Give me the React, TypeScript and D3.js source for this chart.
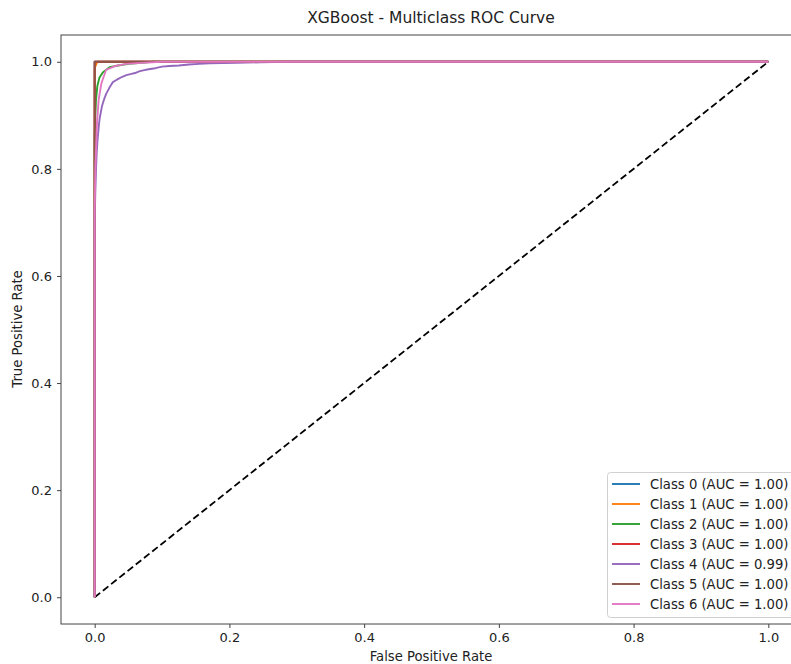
import React, { useEffect, useRef } from 'react';
import * as d3 from 'd3';

// ROC points (fpr, tpr)
const class0: [number, number][] = [[0, 0], [0, 1], [1, 1]];
const class1: [number, number][] = [[0, 0], [0, 0.988], [0.002, 0.994], [0.004, 1], [1, 1]];
const class2: [number, number][] = [
    [0, 0], [0, 0.86], [0.001, 0.9], [0.002, 0.93], [0.004, 0.955], [0.007, 0.97], [0.012, 0.98],
    [0.022, 0.99], [0.035, 0.993], [0.05, 0.996], [0.07, 0.998], [0.086, 1], [1, 1],
];
const class3: [number, number][] = [[0, 0], [0, 1], [1, 1]];
const class4: [number, number][] = [
    [0, 0], [0, 0.7], [0.001, 0.76], [0.002, 0.8], [0.003, 0.83], [0.004, 0.85], [0.005, 0.865],
    [0.0065, 0.885], [0.0075, 0.895], [0.009, 0.905], [0.011, 0.918], [0.014, 0.93], [0.017, 0.94],
    [0.02, 0.947], [0.022, 0.952], [0.025, 0.958], [0.027, 0.962], [0.031, 0.965], [0.035, 0.968],
    [0.041, 0.972], [0.047, 0.975], [0.053, 0.977], [0.06, 0.979], [0.066, 0.982], [0.072, 0.984],
    [0.08, 0.986], [0.09, 0.988], [0.1, 0.991], [0.111, 0.992], [0.125, 0.993], [0.14, 0.995],
    [0.155, 0.996], [0.171, 0.997], [0.19, 0.9975], [0.21, 0.998], [0.245, 0.999], [0.29, 1], [1, 1],
];
const class5: [number, number][] = [[0, 0], [0, 1], [1, 1]];
const class6: [number, number][] = [
    [0, 0], [0, 0.72], [0.001, 0.8], [0.0035, 0.888], [0.006, 0.93], [0.01, 0.96], [0.017, 0.985],
    [0.03, 0.992], [0.047, 0.996], [0.07, 0.998], [0.1, 1], [1, 1],
];

const seriesNames = ['Class 0', 'Class 1', 'Class 2', 'Class 3', 'Class 4', 'Class 5', 'Class 6'];
const seriesData = [class0, class1, class2, class3, class4, class5, class6];
const aucValues = [1.0, 1.0, 1.0, 1.0, 0.99, 1.0, 1.0];
const xTicks = [0, 0.2, 0.4, 0.6, 0.8, 1.0];
const yTicks = [0, 0.2, 0.4, 0.6, 0.8, 1.0];

const App = () => {
    const ref = useRef<SVGSVGElement>(null);

    useEffect(() => {
        document.body.style.margin = '0';
        const svg = d3.select(ref.current);
        svg.selectAll('*').remove();

        const font = 'DejaVu Sans, sans-serif';
        const left = 61, right = 802, top = 35, bottom = 624;

        const x = d3.scaleLinear().domain([-0.05, 1.05]).range([left, right]);
        const y = d3.scaleLinear().domain([-0.05, 1.05]).range([bottom, top]);
        const colors = d3.schemeCategory10;

        svg.append('rect').attr('width', 791).attr('height', 664).attr('fill', 'white');

        // diagonal
        svg.append('path')
            .datum([[0, 0], [1, 1]] as [number, number][])
            .attr('fill', 'none')
            .attr('stroke', 'black')
            .attr('stroke-width', 1.8)
            .attr('stroke-dasharray', '7,3.5')
            .attr('d', d3.line().x(d => x(d[0])).y(d => y(d[1])));

        seriesData.forEach((data, i) => {
            svg.append('path')
                .datum(data)
                .attr('fill', 'none')
                .attr('stroke', colors[i])
                .attr('stroke-width', 1.9)
                .attr('stroke-linejoin', 'round')
                .attr('d', d3.line().x(d => x(d[0])).y(d => y(d[1])));
        });

        // axes
        const gx = svg.append('g').attr('transform', `translate(0,${bottom})`)
            .call(d3.axisBottom(x).tickValues(xTicks).tickFormat(d3.format('.1f')).tickSize(4).tickPadding(5));
        const gy = svg.append('g').attr('transform', `translate(${left},0)`)
            .call(d3.axisLeft(y).tickValues(yTicks).tickFormat(d3.format('.1f')).tickSize(4).tickPadding(5));
        [gx, gy].forEach(g => {
            g.select('.domain').remove();
            g.selectAll('line').attr('stroke', '#444');
            g.selectAll('text').attr('font-family', font).attr('font-size', 13).attr('fill', '#222');
        });

        // frame
        svg.append('rect')
            .attr('x', left).attr('y', top)
            .attr('width', right - left).attr('height', bottom - top)
            .attr('fill', 'none').attr('stroke', '#444').attr('stroke-width', 1);

        // legend
        const lg = svg.append('g');
        lg.append('rect')
            .attr('x', 607.5).attr('y', 472.5).attr('width', 190).attr('height', 145).attr('rx', 3)
            .attr('fill', 'white').attr('fill-opacity', 0.8).attr('stroke', '#d0d0d0');
        seriesNames.forEach((name, i) => {
            const ly = 484 + i * 20;
            lg.append('line').attr('x1', 612).attr('x2', 640).attr('y1', ly).attr('y2', ly)
                .attr('stroke', colors[i]).attr('stroke-width', 1.9);
            lg.append('text').attr('x', 650).attr('y', ly).attr('dy', '0.35em')
                .attr('font-family', font).attr('font-size', 13.2).attr('fill', '#222')
                .text(`${name} (AUC = ${aucValues[i].toFixed(2)})`);
        });

        // labels
        svg.append('text').attr('x', 431).attr('y', 23).attr('text-anchor', 'middle')
            .attr('font-family', font).attr('font-size', 15.5).attr('fill', '#222')
            .text('XGBoost - Multiclass ROC Curve');
        svg.append('text').attr('x', 431).attr('y', 661).attr('text-anchor', 'middle')
            .attr('font-family', font).attr('font-size', 13.2).attr('fill', '#222')
            .text('False Positive Rate');
        svg.append('text').attr('transform', `translate(22,329) rotate(-90)`).attr('text-anchor', 'middle')
            .attr('font-family', font).attr('font-size', 13.2).attr('fill', '#222')
            .text('True Positive Rate');
    }, []);

    return <svg ref={ref} width={791} height={664} style={{ display: 'block' }} />;
};

export default App;
